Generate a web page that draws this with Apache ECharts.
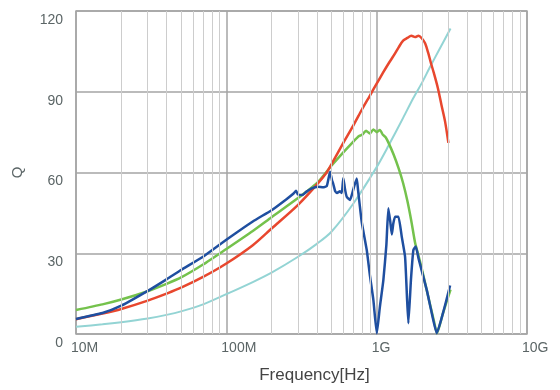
<!DOCTYPE html>
<html>
<head>
<meta charset="utf-8">
<script src="https://cdn.jsdelivr.net/npm/echarts@6/dist/echarts.min.js"></script>
<style>
html, body { margin: 0; padding: 0; background: #fff; }
#chart { width: 560px; height: 390px; }
</style>
</head>
<body>
<div id="chart"></div>
<script>
// frequency in MHz, Q value
var xTicks = [10, 100, 1000, 10000];
var xTickLabels = ['10M', '100M', '1G', '10G'];
var minorFreqs = [20, 30, 40, 50, 60, 70, 80, 90,
  200, 300, 400, 500, 600, 700, 800, 900,
  2000, 3000, 4000, 5000, 6000, 7000, 8000, 9000];
var yTicks = [0, 30, 60, 90, 120];

var redData = [[10, 5.5], [15, 7.6], [20, 9.3], [30, 12.4], [40, 15], [50, 17.2], [70, 21.2],
  [100, 26.2], [150, 33], [200, 39.2], [300, 48], [400, 55.5], [465, 60], [500, 63], [600, 71],
  [700, 77.5], [800, 83.5], [900, 88.5], [1000, 93], [1100, 97], [1200, 100.5], [1300, 103.5],
  [1400, 106.5], [1500, 109], [1600, 110], [1700, 110.8], [1800, 110.3], [1900, 110.8], [2000, 109.8],
  [2100, 108], [2200, 104.5], [2300, 100.5], [2400, 97], [2550, 91.5], [2700, 85], [2850, 79], [3000, 71]];

var greenData = [[10, 8.9], [15, 11], [20, 12.8], [30, 15.9], [40, 18.6], [50, 21], [70, 25.8],
  [100, 31.6], [150, 38.3], [200, 43.4], [300, 50.5], [400, 56], [500, 62.5], [600, 67.5], [700, 71.5],
  [760, 73.5], [800, 74], [850, 75.5], [900, 74.5], [950, 76], [1000, 75], [1050, 75.8], [1100, 74],
  [1150, 73], [1200, 71], [1300, 66.5], [1400, 61.5], [1500, 56], [1600, 49.5], [1700, 42],
  [1800, 34], [1900, 29], [2000, 24], [2200, 14], [2400, 5], [2520, 0.3], [2650, 4], [2760, 7.7], [3100, 16.5]];

var blueData = [[10, 5.6], [15, 7.8], [20, 10.5], [30, 16], [40, 20.3], [50, 23.8], [70, 28.7],
  [100, 35], [150, 41.8], [200, 46], [250, 50], [280, 52.2], [291, 53.2], [300, 51.8], [319, 51.6],
  [340, 52.8], [370, 54.1], [407, 54.7], [440, 54.5], [466, 55], [490, 60.3], [505, 57], [513, 56],
  [530, 53], [545, 52.4], [570, 53], [586, 52.4], [600, 58], [615, 54], [632, 51], [665, 49.8],
  [690, 52.5], [707, 54.7], [737, 57.8], [752, 53.5], [796, 41.5], [859, 31.2], [904, 21.3],
  [951, 12.6], [1002, 0.3], [1050, 10], [1108, 20], [1160, 33], [1196, 46.7], [1230, 42],
  [1261, 37], [1290, 41], [1326, 43.6], [1395, 43.6], [1469, 36.1], [1545, 28.7], [1590, 14],
  [1625, 4], [1690, 20], [1755, 31.2], [1820, 32.5], [1900, 28], [2155, 16.3], [2300, 9],
  [2511, 0.3], [2800, 9], [3079, 18]];

var cyanData = [[10, 2.7], [15, 3.6], [20, 4.4], [30, 5.8], [40, 7.1], [50, 8.4], [70, 11],
  [100, 14.8], [150, 19.3], [200, 22.8], [300, 28.7], [400, 33.5], [500, 38], [700, 48.5],
  [1000, 62], [1200, 70], [1500, 80.3], [1750, 87.6], [2000, 93.3], [2250, 98.9], [2600, 105.5], [3100, 113.5]];

var dom = document.getElementById('chart');
var myChart = echarts.init(dom, null, { renderer: 'canvas' });

var labelColor = '#5b6566';

var option = {
  animation: false,
  backgroundColor: '#fff',
  grid: {
    left: 76, right: 33, top: 11, bottom: 56,
    containLabel: false,
    outerBoundsMode: 'none',
    show: true,
    borderColor: '#a8a8a8',
    borderWidth: 1.5
  },
  xAxis: {
    type: 'log',
    logBase: 10,
    min: xTicks[0],
    max: xTicks[xTicks.length - 1],
    name: 'Frequency[Hz]',
    nameLocation: 'middle',
    nameGap: 33,
    nameTextStyle: { fontSize: 17, color: '#444', fontFamily: 'Arial', padding: [0, 0, 0, 26] },
    axisLine: { show: false },
    axisTick: { show: false },
    axisLabel: {
      color: labelColor,
      fontSize: 14,
      fontFamily: 'Arial',
      align: 'left',
      margin: 7,
      padding: [0, 0, 0, -5],
      formatter: function (v) {
        var i = xTicks.indexOf(Math.round(v));
        return i >= 0 ? xTickLabels[i] : '';
      }
    },
    splitLine: { show: true, lineStyle: { color: '#a5a5a5', width: 1.5 } }
  },
  yAxis: {
    type: 'value',
    min: yTicks[0],
    max: yTicks[yTicks.length - 1],
    interval: 30,
    name: 'Q',
    nameLocation: 'middle',
    nameGap: 51,
    nameTextStyle: { fontSize: 15, color: labelColor, fontFamily: 'Arial' },
    axisLine: { show: false },
    axisTick: { show: false },
    axisLabel: {
      color: labelColor,
      fontSize: 14,
      fontFamily: 'Arial',
      margin: 13,
      verticalAlign: 'top',
      padding: [2, 0, 0, 0]
    },
    splitLine: { show: true, lineStyle: { color: '#a5a5a5', width: 1.5 } }
  },
  series: [
    {
      name: 'grid',
      type: 'line',
      data: [],
      z: 1,
      silent: true,
      markLine: {
        silent: true,
        symbol: 'none',
        label: { show: false },
        lineStyle: { color: '#cdcdcd', width: 1, type: 'solid' },
        data: minorFreqs.map(function (f) { return { xAxis: f }; })
      }
    },
    {
      name: 'cyan', type: 'line', data: cyanData, showSymbol: false, smooth: 0.3,
      lineStyle: { color: '#93d4d4', width: 2 }, itemStyle: { color: '#93d4d4' }
    },
    {
      name: 'green', type: 'line', data: greenData, showSymbol: false, smooth: 0.2,
      lineStyle: { color: '#74c24c', width: 2.5 }, itemStyle: { color: '#74c24c' }
    },
    {
      name: 'red', type: 'line', data: redData, showSymbol: false, smooth: 0.3,
      lineStyle: { color: '#e8472e', width: 2.5 }, itemStyle: { color: '#e8472e' }
    },
    {
      name: 'blue', type: 'line', data: blueData, showSymbol: false, smooth: 0.15,
      lineStyle: { color: '#1f4fa0', width: 2.5 }, itemStyle: { color: '#1f4fa0' }
    }
  ]
};

if (option && typeof option === 'object') {
  myChart.setOption(option, true);
}
</script>
</body>
</html>
